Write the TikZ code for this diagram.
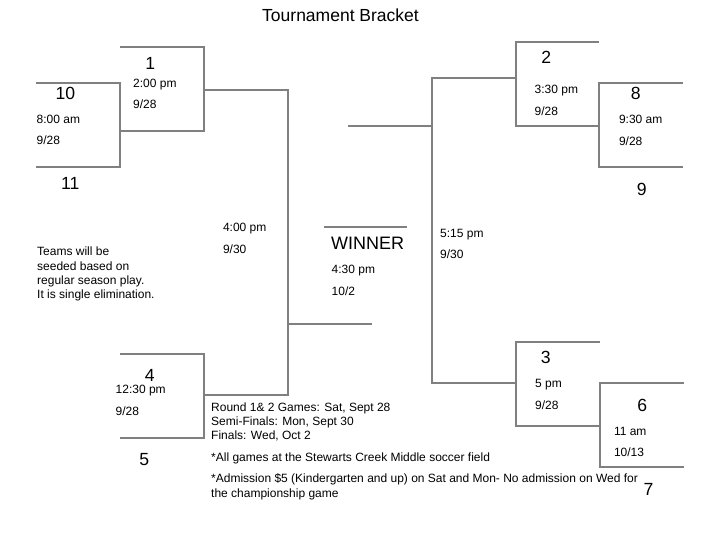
\documentclass[tikz,border=0pt]{standalone}
\usepackage{fontspec}
\setmainfont{Liberation Sans}
\definecolor{brgray}{RGB}{128,128,128}
\begin{document}
\begin{tikzpicture}[x=1pt,y=-1pt,
  br/.style={draw=brgray,line width=1.6pt},
  num/.style={font=\fontsize{17.6}{20}\selectfont,anchor=base,inner sep=0},
  sm/.style={font=\fontsize{12}{14.4}\selectfont,anchor=base west,inner sep=0}]
\useasboundingbox (0,0) rectangle (720,540);
% title
\node[font=\fontsize{17.5}{20}\selectfont,anchor=base,inner sep=0] (title) at (340.5,21.7) {Tournament Bracket};

% ---------- left half ----------
\coordinate (g1tl) at (120,47);  \coordinate (g1br) at (204,131);
\coordinate (g10tl) at (36,83);  \coordinate (g10br) at (120,167);
\coordinate (g4tl) at (120,354); \coordinate (g4br) at (204,438);
\coordinate (semiL) at (288,324);
\coordinate (semiLend) at (372,324);
\draw[br] (g1tl) -| (g1br) -- (g1tl |- g1br);
\draw[br] (g10tl) -| (g10br) -- (g10tl |- g10br);
\draw[br] (g4tl) -| (g4br) -- (g4tl |- g4br);
\draw[br] (204,90) -| (288,395) -- (204,395);
\draw[br] (semiL) -- (semiLend);

% ---------- right half ----------
\coordinate (g2tr) at (599,42);  \coordinate (g2bl) at (516,126);
\coordinate (g8tr) at (683,83);  \coordinate (g8bl) at (599,167);
\coordinate (g3tr) at (600,342); \coordinate (g3bl) at (516,426);
\coordinate (g6tr) at (684,383); \coordinate (g6bl) at (600,467);
\coordinate (semiR) at (432,126);
\coordinate (semiRend) at (348,126);
\draw[br] (g2tr) -| (g2bl) -- (g2tr |- g2bl);
\draw[br] (g8tr) -| (g8bl) -- (g8tr |- g8bl);
\draw[br] (g3tr) -| (g3bl) -- (g3tr |- g3bl);
\draw[br] (g6tr) -| (g6bl) -- (g6tr |- g6bl);
\draw[br] (516,78) -| (432,383) -- (516,383);
\draw[br] (semiRend) -- (semiR);

% winner line
\coordinate (winL) at (324,227); \coordinate (winR) at (407,227);
\draw[br] (winL) -- (winR);

% ---------- team numbers ----------
\node[num] (t1) at (150.3,69.5) {1};
\node[num] (t10) at (65.5,99.5) {10};
\node[num] (t11) at (70.3,189.5) {11};
\node[num] (t4) at (149.7,381.7) {4};
\node[num] (t5) at (144.2,465) {5};
\node[num] (t2) at (546.3,63.5) {2};
\node[num] (t8) at (635.8,99.5) {8};
\node[num] (t9) at (641.8,195.5) {9};
\node[num] (t3) at (545.8,363.3) {3};
\node[num] (t6) at (642.2,411) {6};
\node[num] (t7) at (648.5,495) {7};

% ---------- times / dates ----------
\node[sm] (g1t) at (133,87.5) {2:00 pm};
\node[sm] (g1d) at (133,109) {9/28};
\node[sm] (g10t) at (36.5,123.5) {8:00 am};
\node[sm] (g10d) at (36.5,145) {9/28};
\node[sm] (g4t) at (115.5,393.3) {12:30 pm};
\node[sm] (g4d) at (115.5,415) {9/28};
\node[sm] (sLt) at (222.8,231.7) {4:00 pm};
\node[sm] (sLd) at (222.8,253.3) {9/30};
\node[sm] (g2t) at (534.5,93.5) {3:30 pm};
\node[sm] (g2d) at (534.5,115.3) {9/28};
\node[sm] (g8t) at (618.8,123.5) {9:30 am};
\node[sm] (g8d) at (618.8,145.3) {9/28};
\node[sm] (sRt) at (440,237.3) {5:15 pm};
\node[sm] (sRd) at (440,258.3) {9/30};
\node[sm] (g3t) at (535,387.3) {5 pm};
\node[sm] (g3d) at (535,409) {9/28};
\node[sm] (g6t) at (613.8,435) {11 am};
\node[sm] (g6d) at (613.8,456.7) {10/13};

% winner
\node[font=\fontsize{18}{20}\selectfont,anchor=base west,inner sep=0] (win) at (331,249.3) {WINNER};
\node[sm] (wt) at (331.5,273.7) {4:30 pm};
\node[sm] (wd) at (331.5,295.3) {10/2};

% notes
\node[sm] (n1) at (37,255.7) {Teams will be};
\node[sm] (n2) at (37,270.1) {seeded based on};
\node[sm] (n3) at (37,284.5) {regular season play.};
\node[sm] (n4) at (37,298.9) {It is single elimination.};

\node[sm] (r1) at (211,411) {Round 1\& 2 Games: Sat, Sept 28};
\node[sm] (r2) at (211,425.4) {Semi-Finals: Mon, Sept 30};
\node[sm] (r3) at (211,439.8) {Finals: Wed, Oct 2};
\node[sm] (r4) at (211,461.3) {*All games at the Stewarts Creek Middle soccer field};
\node[sm] (r5) at (211,482.8) {*Admission \$5 (Kindergarten and up) on Sat and Mon- No admission on Wed for};
\node[sm] (r6) at (211,497.2) {the championship game};
\end{tikzpicture}
\end{document}
